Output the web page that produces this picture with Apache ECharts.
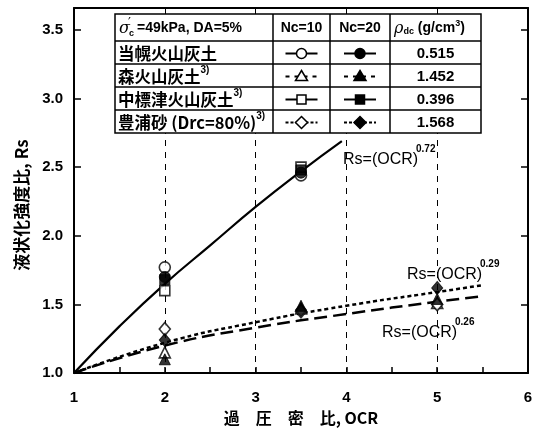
<!DOCTYPE html>
<html><head><meta charset="utf-8">
<script src="https://cdn.jsdelivr.net/npm/echarts@6/dist/echarts.min.js"></script>
<style>html,body{margin:0;padding:0;background:#fff}#c{width:536px;height:431px}</style>
</head><body><div id="c"></div>
<script>
// Axis settings
const ocrMin = 1, ocrMax = 6;
const rsMin = 1.0, rsMax = 3.66;

// Measured liquefaction strength ratios [OCR, Rs]
const tohoroNc10 = [[2, 1.77], [3.5, 2.44]];
const tohoroNc20 = [[2, 1.70], [3.5, 2.46]];
const moriNc10 = [[2, 1.15], [3.5, 1.47], [5, 1.51]];
const moriNc20 = [[2, 1.10], [3.5, 1.49], [5, 1.54]];
const nakashibetsuNc10 = [[2, 1.60], [3.5, 2.50]];
const nakashibetsuNc20 = [[2, 1.68], [3.5, 2.48]];
const toyouraNc10 = [[2, 1.32], [3.5, 1.45], [5, 1.50]];
const toyouraNc20 = [[2, 1.24], [3.5, 1.46], [5, 1.62]];

// Fitted curves Rs = OCR^n
const fit072 = [[1, 1.00], [1.5, 1.34], [2, 1.65], [2.5, 1.93], [3, 2.21], [3.5, 2.47], [3.95, 2.69]];
const fit029 = [[1, 1.00], [2, 1.22], [3, 1.37], [4, 1.49], [5, 1.59], [5.5, 1.64]];
const fit026 = [[1, 1.00], [2, 1.20], [3, 1.33], [4, 1.43], [5, 1.52], [5.5, 1.56]];
const fitLabels = ['0.72', '0.29', '0.26'];

// Legend table contents
const soilNames = ['当幌火山灰土', '森火山灰土', '中標津火山灰土', '豊浦砂 (Drc=80%)'];
const soilRefs = ['', '3)', '3)', '3)'];
const densities = ['0.515', '1.452', '0.396', '1.568'];

const LAT = "'Liberation Sans', Arial, 'Noto Sans CJK JP', sans-serif";
const JP = "'Noto Sans CJK JP', 'Liberation Sans', sans-serif";
const SERIF = "'DejaVu Serif', serif";

const chart = echarts.init(document.getElementById('c'), null, {renderer: 'canvas'});

function openStyle() { return {color: '#fff', borderColor: '#000', borderWidth: 1.6}; }
function fillStyle() { return {color: '#000', borderColor: '#000', borderWidth: 1}; }

function scatter(name, data, symbol, size, filled, z) {
  return {
    name, type: 'scatter', data, symbol, symbolSize: size, z,
    itemStyle: filled ? fillStyle() : openStyle(), silent: true
  };
}
function fitLine(name, data, dash, width) {
  return {
    name, type: 'line', data, smooth: true, showSymbol: false, z: 2,
    lineStyle: {color: '#000', width, type: dash}, silent: true
  };
}

// ---- legend table graphics ----
const tL = 115, tR = 481, colX = [273, 330, 390];
const rowY = [14, 41, 64, 87, 110, 133];
const g = [];
g.push({type: 'rect', shape: {x: tL, y: rowY[0], width: tR - tL, height: rowY[5] - rowY[0]},
  style: {fill: '#fff', stroke: '#000', lineWidth: 1.5}, z: 10});
colX.forEach(x => g.push({type: 'line', shape: {x1: x, y1: rowY[0], x2: x, y2: rowY[5]},
  style: {stroke: '#000', lineWidth: 1.5}, z: 11}));
for (let i = 1; i < 5; i++) g.push({type: 'line', shape: {x1: tL, y1: rowY[i], x2: tR, y2: rowY[i]},
  style: {stroke: '#000', lineWidth: 1.5}, z: 11});

function txt(x, y, text, size, opts) {
  opts = opts || {};
  g.push({type: 'text', x, y, z: 12, style: {
    text, fill: '#000', font: (opts.weight || 'bold') + ' ' + size + 'px ' + (opts.family || LAT),
    align: opts.align || 'left', verticalAlign: opts.va || 'middle'
  }});
}
// header row
const hY = (rowY[0] + rowY[1]) / 2 + 1;
txt(119, hY, 'σ', 16, {weight: 'italic', family: SERIF});
txt(128, hY - 5, '\u2032', 13, {weight: 'normal', family: SERIF});
txt(129, hY + 5, 'c', 9);
txt(137, hY, '=49kPa, DA=5%', 14);
txt((colX[0] + colX[1]) / 2, hY, 'Nc=10', 14, {align: 'center'});
txt((colX[1] + colX[2]) / 2, hY, 'Nc=20', 14, {align: 'center'});
g.push({type: 'text', x: 394, y: hY, z: 12, style: {
  text: '{r|ρ}{d|dc}{t| (g/cm}{s|3}{t|)}', align: 'left', verticalAlign: 'middle',
  rich: {
    r: {font: 'italic 16px ' + SERIF, fill: '#000', lineHeight: 22, verticalAlign: 'middle'},
    d: {font: 'bold 9px ' + LAT, fill: '#000', lineHeight: 22, verticalAlign: 'bottom', padding: [0, 0, 3, 0]},
    t: {font: 'bold 14px ' + LAT, fill: '#000', lineHeight: 22, verticalAlign: 'middle'},
    s: {font: 'bold 9px ' + LAT, fill: '#000', lineHeight: 22, verticalAlign: 'top', padding: [2, 0, 0, 0]}
  }
}});

// data rows
function legendMark(cx, cy, shape, filled, dash) {
  g.push({type: 'line', shape: {x1: cx - 16, y1: cy, x2: cx + 16, y2: cy},
    style: {stroke: '#000', lineWidth: 2, lineDash: dash}, z: 12});
  const st = {fill: filled ? '#000' : '#fff', stroke: '#000', lineWidth: 1.5};
  if (shape === 'circle') g.push({type: 'circle', shape: {cx, cy, r: 5}, style: st, z: 13});
  if (shape === 'rect') g.push({type: 'rect', shape: {x: cx - 4.5, y: cy - 4.5, width: 9, height: 9}, style: st, z: 13});
  if (shape === 'triangle') g.push({type: 'polygon', shape: {points: [[cx, cy - 6], [cx + 6, cy + 4], [cx - 6, cy + 4]]}, style: st, z: 13});
  if (shape === 'diamond') g.push({type: 'polygon', shape: {points: [[cx, cy - 6], [cx + 6, cy], [cx, cy + 6], [cx - 6, cy]]}, style: st, z: 13});
}
const rowShapes = ['circle', 'triangle', 'rect', 'diamond'];
const rowDash = [null, [4, 5], null, [3, 2]];
for (let i = 0; i < 4; i++) {
  const cy = (rowY[i + 1] + rowY[i + 2]) / 2 + 1;
  g.push({type: 'text', x: 118, y: cy, z: 12, style: {
    text: '{n|' + soilNames[i] + '}' + (soilRefs[i] ? '{s|' + soilRefs[i] + '}' : ''),
    verticalAlign: 'middle', align: 'left',
    rich: {
      n: {font: 'bold 16.5px ' + JP, fill: '#000', verticalAlign: 'middle', lineHeight: 22},
      s: {font: 'bold 10px ' + LAT, fill: '#000', verticalAlign: 'top', lineHeight: 22}
    }
  }});
  legendMark((colX[0] + colX[1]) / 2, cy, rowShapes[i], false, rowDash[i]);
  legendMark((colX[1] + colX[2]) / 2, cy, rowShapes[i], true, rowDash[i]);
  txt((colX[2] + tR) / 2, cy, densities[i], 15, {align: 'center'});
}

// fitted-curve annotations
const fitPos = [[343, 160], [407, 275], [382, 333]];
fitPos.forEach((p, i) => {
  txt(p[0], p[1], 'Rs=(OCR)', 16, {weight: 'normal'});
  txt(p[0] + 73, p[1] - 11, fitLabels[i], 10);
});

// y-axis title
g.push({type: 'text', x: 22, y: 205, rotation: Math.PI / 2, z: 12, style: {
  text: '液状化強度比, Rs', fill: '#000', font: 'bold 17px ' + JP, align: 'center', verticalAlign: 'middle'}});

const axisLabelStyle = {color: '#000', fontWeight: 'bold', fontSize: 15, fontFamily: LAT};

chart.setOption({
  animation: false,
  backgroundColor: '#fff',
  grid: {left: 74, right: 8, top: 8, bottom: 57},
  xAxis: [{
    type: 'value', min: ocrMin, max: ocrMax, interval: 1,
    name: '過\u3000圧\u3000密\u3000比, OCR', nameLocation: 'middle', nameGap: 37,
    nameTextStyle: {color: '#000', fontWeight: 'bold', fontSize: 16, fontFamily: JP},
    axisLine: {show: true, onZero: false, lineStyle: {color: '#000', width: 2}},
    axisTick: {show: true, inside: true, length: 6, lineStyle: {color: '#000', width: 1.5}},
    minorTick: {show: true, splitNumber: 2, length: 6, lineStyle: {color: '#000', width: 1.5}},
    axisLabel: Object.assign({margin: 17}, axisLabelStyle),
    splitLine: {show: true, lineStyle: {color: '#000', width: 1, type: [6, 6]}}
  }, {
    type: 'value', position: 'top', min: ocrMin, max: ocrMax, interval: 1,
    axisLine: {show: true, onZero: false, lineStyle: {color: '#000', width: 2}},
    axisTick: {show: false}, axisLabel: {show: false}, splitLine: {show: false}
  }],
  yAxis: [{
    type: 'value', min: rsMin, max: rsMax, interval: 0.5,
    axisLine: {show: true, onZero: false, lineStyle: {color: '#000', width: 2}},
    axisTick: {show: true, inside: true, length: 7, lineStyle: {color: '#000', width: 1.5}},
    axisLabel: Object.assign({margin: 11, showMaxLabel: false, formatter: v => v.toFixed(1)}, axisLabelStyle),
    splitLine: {show: false}
  }, {
    type: 'value', position: 'right', min: rsMin, max: rsMax, interval: 0.5,
    axisLine: {show: true, onZero: false, lineStyle: {color: '#000', width: 2}},
    axisTick: {show: true, inside: true, length: 7, lineStyle: {color: '#000', width: 1.5}},
    axisLabel: {show: false}, splitLine: {show: false}
  }],
  series: [
    fitLine('Rs=(OCR)^0.72', fit072, 'solid', 2.2),
    fitLine('Rs=(OCR)^0.29', fit029, [4, 3], 2.5),
    fitLine('Rs=(OCR)^0.26', fit026, [13, 6], 2.5),
    scatter('当幌 Nc=10', tohoroNc10, 'circle', 11, false, 3),
    scatter('中標津 Nc=10', nakashibetsuNc10, 'rect', 10, false, 3),
    scatter('森 Nc=10', moriNc10, 'triangle', 11, false, 3),
    scatter('豊浦 Nc=10', toyouraNc10, 'diamond', [11, 13], false, 3),
    scatter('当幌 Nc=20', tohoroNc20, 'circle', 11, true, 4),
    scatter('中標津 Nc=20', nakashibetsuNc20, 'rect', 10, true, 4),
    scatter('森 Nc=20', moriNc20, 'triangle', 11, true, 4),
    scatter('豊浦 Nc=20', toyouraNc20, 'diamond', [11, 13], true, 4)
  ],
  graphic: g
});
</script>
</body></html>
